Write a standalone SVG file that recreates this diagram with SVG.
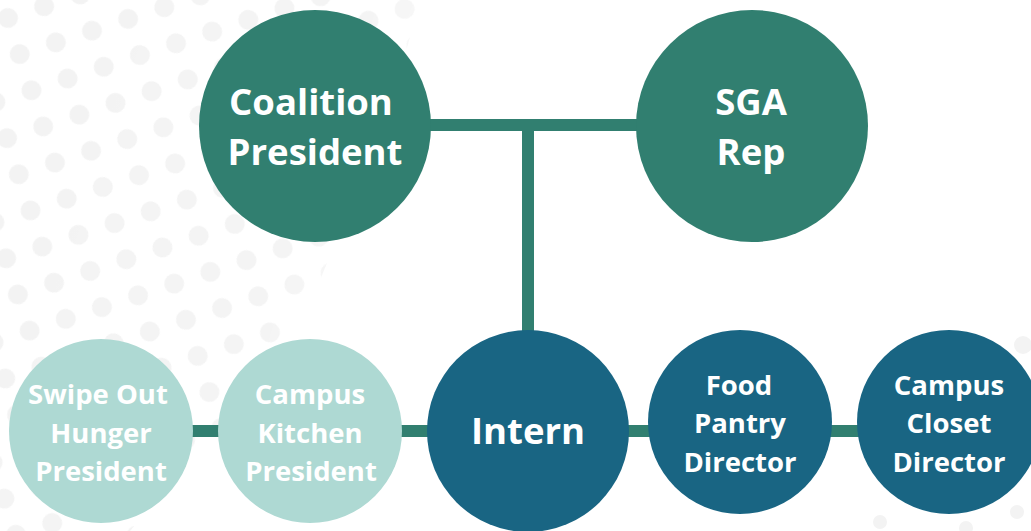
<svg xmlns="http://www.w3.org/2000/svg" width="1031" height="531" viewBox="0 0 1031 531">
<style>
.t{font-family:"Open Sans","Liberation Sans",sans-serif;font-weight:700;fill:#ffffff;text-anchor:middle}
.big{font-size:36.5px}
.sm{font-size:27.5px}
.teal{fill:#317f70}
.blue{fill:#196583}
.light{fill:#aed9d3}
.conn{stroke:#317f70;stroke-width:12;fill:none}
.dot{fill:#f3f3f3}
</style>
<defs>
<pattern id="dots" width="38" height="38" patternUnits="userSpaceOnUse" patternTransform="rotate(-18) translate(-17 0.6)">
<circle cx="19" cy="19" r="10" class="dot"/>
</pattern>
<clipPath id="dotclip">
<polygon points="0,0 420,0 390,110 320,280 240,400 130,531 0,531"/>
</clipPath>
<linearGradient id="fade" x1="0" y1="0" x2="1" y2="0.4">
<stop offset="0" stop-color="#fff" stop-opacity="1"/>
<stop offset="0.75" stop-color="#fff" stop-opacity="0.9"/>
<stop offset="1" stop-color="#fff" stop-opacity="0.3"/>
</linearGradient>
<mask id="dotmask">
<rect x="0" y="0" width="430" height="531" fill="url(#fade)"/>
</mask>
</defs>
<rect width="1031" height="531" fill="#ffffff"/>
<g id="background">
<rect x="0" y="0" width="430" height="531" fill="url(#dots)" clip-path="url(#dotclip)" mask="url(#dotmask)"/>
<circle cx="1023" cy="345" r="9" class="dot"/>
<circle cx="880" cy="522" r="7" class="dot"/>
<circle cx="1017" cy="512" r="7" class="dot"/>
<circle cx="966" cy="528" r="7" class="dot"/>
</g>
<g id="connectors">
<line class="conn" x1="420" y1="125" x2="645" y2="125"/>
<line class="conn" x1="528" y1="125" x2="528" y2="340"/>
<line class="conn" x1="185" y1="431" x2="225" y2="431"/>
<line class="conn" x1="395" y1="431" x2="435" y2="431"/>
<line class="conn" x1="620" y1="431" x2="655" y2="431"/>
<line class="conn" x1="825" y1="431" x2="865" y2="431"/>
</g>
<g id="coalition-president">
<circle cx="315" cy="126" r="116" class="teal"/>
<text class="t big" x="311" y="115">Coalition</text>
<text class="t big" x="315" y="165">President</text>
</g>
<g id="sga-rep">
<circle cx="752" cy="126" r="116" class="teal"/>
<text class="t big" x="751" y="115">SGA</text>
<text class="t big" x="751" y="165">Rep</text>
</g>
<g id="intern">
<circle cx="528" cy="431" r="101" class="blue"/>
<text class="t big" x="528" y="444">Intern</text>
</g>
<g id="swipe-out-hunger-president">
<circle cx="101" cy="431" r="92" class="light"/>
<text class="t sm" x="98" y="404">Swipe Out</text>
<text class="t sm" x="101" y="443">Hunger</text>
<text class="t sm" x="101" y="481">President</text>
</g>
<g id="campus-kitchen-president">
<circle cx="310" cy="431" r="92" class="light"/>
<text class="t sm" x="310" y="404">Campus</text>
<text class="t sm" x="310" y="443">Kitchen</text>
<text class="t sm" x="311" y="481">President</text>
</g>
<g id="food-pantry-director">
<circle cx="740" cy="422" r="92" class="blue"/>
<text class="t sm" x="739" y="395">Food</text>
<text class="t sm" x="740" y="433">Pantry</text>
<text class="t sm" x="740" y="472">Director</text>
</g>
<g id="campus-closet-director">
<circle cx="949" cy="422" r="92" class="blue"/>
<text class="t sm" x="949" y="395">Campus</text>
<text class="t sm" x="949" y="433">Closet</text>
<text class="t sm" x="949" y="472">Director</text>
</g>
</svg>
